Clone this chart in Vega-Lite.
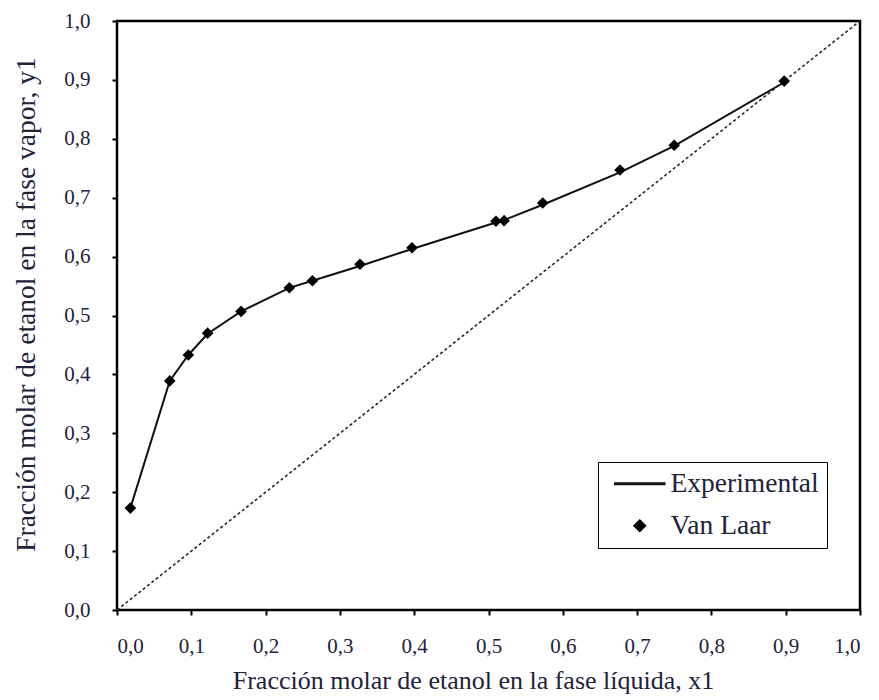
{
  "$schema": "https://vega.github.io/schema/vega-lite/v6.json",
  "width": 743,
  "height": 589,
  "autosize": "none",
  "padding": {"left": 117, "top": 21, "right": 19, "bottom": 90},
  "background": "white",
  "config": {
    "view": {"stroke": "black", "strokeWidth": 2.5},
    "font": "Liberation Serif, Times New Roman, serif",
    "axis": {
      "grid": false,
      "domain": false,
      "ticks": true,
      "tickColor": "black",
      "tickWidth": 2,
      "tickSize": 5,
      "labelFont": "Liberation Serif, Times New Roman, serif",
      "labelFontSize": 21,
      "labelColor": "#22223a",
      "titleFont": "Liberation Serif, Times New Roman, serif",
      "titleFontWeight": "normal",
      "titleColor": "#22223a"
    }
  },
  "datasets": {
    "exp": [
      {"x": 0.018, "y": 0.173, "serie": "Experimental"},
      {"x": 0.071, "y": 0.389, "serie": "Experimental"},
      {"x": 0.096, "y": 0.433, "serie": "Experimental"},
      {"x": 0.122, "y": 0.469, "serie": "Experimental"},
      {"x": 0.167, "y": 0.507, "serie": "Experimental"},
      {"x": 0.232, "y": 0.547, "serie": "Experimental"},
      {"x": 0.263, "y": 0.559, "serie": "Experimental"},
      {"x": 0.327, "y": 0.584, "serie": "Experimental"},
      {"x": 0.397, "y": 0.613, "serie": "Experimental"},
      {"x": 0.510, "y": 0.658, "serie": "Experimental"},
      {"x": 0.521, "y": 0.662, "serie": "Experimental"},
      {"x": 0.573, "y": 0.688, "serie": "Experimental"},
      {"x": 0.677, "y": 0.743, "serie": "Experimental"},
      {"x": 0.750, "y": 0.788, "serie": "Experimental"},
      {"x": 0.898, "y": 0.896, "serie": "Experimental"}
    ],
    "vl": [
      {"x": 0.018, "y": 0.173, "serie": "Van Laar"},
      {"x": 0.071, "y": 0.389, "serie": "Van Laar"},
      {"x": 0.096, "y": 0.433, "serie": "Van Laar"},
      {"x": 0.122, "y": 0.470, "serie": "Van Laar"},
      {"x": 0.167, "y": 0.507, "serie": "Van Laar"},
      {"x": 0.232, "y": 0.547, "serie": "Van Laar"},
      {"x": 0.263, "y": 0.559, "serie": "Van Laar"},
      {"x": 0.327, "y": 0.587, "serie": "Van Laar"},
      {"x": 0.397, "y": 0.615, "serie": "Van Laar"},
      {"x": 0.510, "y": 0.660, "serie": "Van Laar"},
      {"x": 0.521, "y": 0.661, "serie": "Van Laar"},
      {"x": 0.573, "y": 0.691, "serie": "Van Laar"},
      {"x": 0.677, "y": 0.747, "serie": "Van Laar"},
      {"x": 0.750, "y": 0.789, "serie": "Van Laar"},
      {"x": 0.898, "y": 0.898, "serie": "Van Laar"}
    ],
    "diag": [
      {"x": 0, "y": 0},
      {"x": 1, "y": 1}
    ]
  },
  "layer": [
    {
      "data": {"name": "diag"},
      "mark": {"type": "line", "color": "#2a2a2a", "strokeWidth": 1.6, "strokeDash": [3, 2.5]},
      "encoding": {
        "x": {"field": "x", "type": "quantitative"},
        "y": {"field": "y", "type": "quantitative"}
      }
    },
    {
      "data": {"name": "exp"},
      "mark": {"type": "line", "strokeWidth": 2, "interpolate": "linear"},
      "encoding": {
        "x": {"field": "x", "type": "quantitative"},
        "y": {"field": "y", "type": "quantitative"},
        "color": {"field": "serie", "type": "nominal"}
      }
    },
    {
      "data": {"name": "vl"},
      "mark": {"type": "point", "filled": true, "size": 400, "opacity": 1},
      "encoding": {
        "x": {
          "field": "x", "type": "quantitative",
          "scale": {"domain": [0, 1], "nice": false, "zero": false},
          "axis": {
            "values": [0, 0.1, 0.2, 0.3, 0.4, 0.5, 0.6, 0.7, 0.8, 0.9, 1.0],
            "labelExpr": "replace(format(datum.value, '.1f'), '.', ',')",
            "labelPadding": 20,
            "titlePadding": 11,
            "titleFontSize": 26,
            "titleX": 356,
            "title": "Fracción molar de etanol en la fase líquida, x1"
          }
        },
        "y": {
          "field": "y", "type": "quantitative",
          "scale": {"domain": [0, 1], "nice": false, "zero": false},
          "axis": {
            "values": [0, 0.1, 0.2, 0.3, 0.4, 0.5, 0.6, 0.7, 0.8, 0.9, 1.0],
            "labelExpr": "replace(format(datum.value, '.1f'), '.', ',')",
            "labelPadding": 22,
            "titlePadding": 23,
            "titleFontSize": 27.5,
            "titleY": 283,
            "title": "Fracción molar de etanol en la fase vapor, y1"
          }
        },
        "color": {
          "field": "serie", "type": "nominal",
          "scale": {"domain": ["Experimental", "Van Laar"], "range": ["#111111", "black"]},
          "legend": {
            "title": null,
            "orient": "none",
            "legendX": 481,
            "legendY": 441,
            "strokeColor": "black",
            "padding": 8,
            "labelFont": "Liberation Serif, Times New Roman, serif",
            "labelFontSize": 27.5,
            "labelColor": "#22223a",
            "labelOffset": 17,
            "symbolSize": 400,
            "symbolOffset": 20,
            "rowPadding": 13
          }
        },
        "shape": {
          "field": "serie", "type": "nominal",
          "scale": {"domain": ["Experimental", "Van Laar"], "range": ["M-2.5,-0.07H2.5V0.07H-2.5Z", "M0,-0.58L0.58,0L0,0.58L-0.58,0Z"]},
          "legend": {
            "title": null,
            "orient": "none",
            "legendX": 481,
            "legendY": 441,
            "strokeColor": "black",
            "padding": 8,
            "labelFont": "Liberation Serif, Times New Roman, serif",
            "labelFontSize": 27.5,
            "labelColor": "#22223a",
            "labelOffset": 17,
            "symbolSize": 400,
            "symbolOffset": 20,
            "rowPadding": 13
          }
        }
      }
    }
  ]
}
